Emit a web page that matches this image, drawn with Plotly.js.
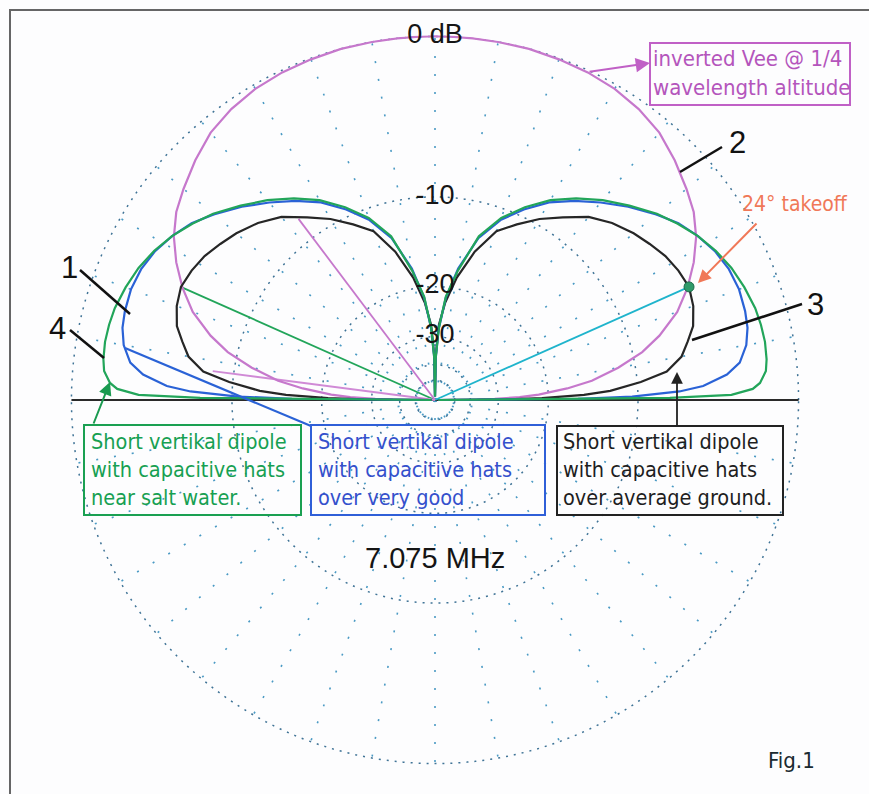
<!DOCTYPE html>
<html>
<head>
<meta charset="utf-8">
<script src="https://cdn.plot.ly/plotly-3.0.1.min.js"></script>
<style>html,body{margin:0;padding:0;background:#fdfdfe;}#chart{width:869px;height:794px;}</style>
</head>
<body>
<div id="chart"></div>
<script>
// Elevation angles (degrees above the horizon, right half; left half mirrors)
const elev = [0, 0.5, 1, 2, 3, 5, 7, 10, 13, 16, 20, 24, 28, 32, 36, 40, 45, 50, 55, 60, 65, 70, 75, 80, 84, 87, 89, 90];
// 1: short vertical dipole with capacitive hats over very good ground (blue)
const dbBlue   = [-80, -16, -10.5, -6.8, -5.2, -3.7, -2.9, -2.4, -2.15, -2.05, -2.0, -2.1, -2.35, -2.75, -3.25, -3.95, -4.9, -5.9, -6.9, -8.0, -9.4, -11.0, -13.3, -17.2, -21.7, -28, -37, -80];
// 2: inverted Vee @ 1/4 wavelength altitude (purple)
const dbVee    = [-80, -37, -31, -25, -21.5, -17.3, -14.3, -11.5, -9.2, -7.6, -5.9, -4.7, -3.7, -2.85, -2.2, -1.75, -1.2, -0.7, -0.4, -0.2, -0.1, -0.05, 0, 0, 0, 0, 0, 0];
// 3: short vertical dipole with capacitive hats over average ground (black)
const dbAvg    = [-80, -28, -21, -15.3, -12.5, -9.7, -7.6, -6.4, -5.8, -5.2, -4.8, -4.6, -4.75, -5.0, -5.4, -5.8, -6.4, -7.2, -8.4, -9.5, -10.8, -12.1, -14.8, -18.5, -22.5, -27, -36, -80];
// 4: short vertical dipole with capacitive hats near salt water (green)
const dbSalt   = [-80, -7.5, -3.5, -2.3, -1.9, -1.55, -1.45, -1.4, -1.43, -1.5, -1.7, -1.95, -2.3, -2.75, -3.3, -3.9, -4.8, -5.7, -6.7, -7.8, -9.2, -10.8, -13.1, -17.5, -21.5, -27.8, -37, -80];

// Cursor lines drawn from the origin (angle in plot degrees, level in dB)
const cursorAngles = [24, 156, 127, 172.6];
const cursorDb     = [-4.6, -4.7, -8.1, -8.3];
const cursorColors = ['#1fb4cc', '#22a55a', '#c678cc', '#d08ad6'];
// Takeoff marker
const takeoffAngle = [24];
const takeoffDb = [-4.6];

// Ring labels
const ringDb = [0, -10, -20, -30];
const ringText = ['0 dB', '-10', '-20', '-30'];
// Grid rings (dB)
const gridDb = [-50, -40, -30, -20, -10, 0];

// ARRL log scale: each 2 dB is a factor of 0.89 in radius
const s = db => Math.pow(0.89, -db / 2);

function mirror(vals) {
  const right = vals.slice();
  const left = vals.slice(0, -1).reverse();
  return right.concat(left);
}
const thetaFull = elev.concat(elev.slice(0, -1).reverse().map(a => 180 - a));

function curve(db, color) {
  return {
    type: 'scatterpolar', mode: 'lines',
    theta: thetaFull, r: mirror(db).map(s),
    line: {color: color, width: 2.2}, hoverinfo: 'skip'
  };
}

const traces = [];
traces.push({type: 'scatterpolar', mode: 'lines', theta: [0, 0, 180], r: [1, 0, 1],
  line: {color: '#2a2a2a', width: 2}, hoverinfo: 'skip'});
cursorAngles.forEach((a, i) => {
  traces.push({type: 'scatterpolar', mode: 'lines', theta: [a, a], r: [0, s(cursorDb[i])],
    line: {color: cursorColors[i], width: 1.8}, hoverinfo: 'skip'});
});
traces.push(curve(dbVee, '#c678cc'));
traces.push(curve(dbAvg, '#262626'));
traces.push(curve(dbBlue, '#2a62d6'));
traces.push(curve(dbSalt, '#22a55a'));
traces.push({type: 'scatterpolar', mode: 'markers', theta: takeoffAngle, r: takeoffDb.map(s),
  marker: {size: 10, color: '#2f9a6a', line: {color: '#1d6a4a', width: 1}}, hoverinfo: 'skip'});
traces.push({type: 'scatterpolar', mode: 'text', theta: ringDb.map(() => 90), r: ringDb.map(s),
  text: ringText, textposition: 'middle center',
  textfont: {family: 'Liberation Sans, Arial, sans-serif', size: 27, color: '#151515'}, hoverinfo: 'skip'});

const px = x => (x - 70) / 730;
const py = y => (765 - y) / 730;

const boxFont = 'DejaVu Sans Condensed, DejaVu Sans, sans-serif';
const annotations = [
  {x: px(435), y: py(558), text: '7.075 MHz', font: {family: 'Liberation Sans, Arial', size: 29, color: '#151515'}},
  {x: px(791), y: py(760), text: 'Fig.1', font: {family: boxFont, size: 22, color: '#1a2a30'}},
  {x: px(69), y: py(267), text: '1', font: {family: 'Liberation Sans, Arial', size: 31, color: '#111'}},
  {x: px(57), y: py(328), text: '4', font: {family: 'Liberation Sans, Arial', size: 31, color: '#111'}},
  {x: px(737), y: py(142), text: '2', font: {family: 'Liberation Sans, Arial', size: 31, color: '#111'}},
  {x: px(815), y: py(304), text: '3', font: {family: 'Liberation Sans, Arial', size: 31, color: '#111'}},
  {x: px(795), y: py(204), text: '24° takeoff', font: {family: boxFont, size: 21, color: '#f07858'}},
  {x: px(89), y: py(427), xanchor: 'left', yanchor: 'top', align: 'left',
    text: 'Short vertikal dipole<br>with capacitive hats<br>near salt water.', font: {family: boxFont, size: 21.5, color: '#17a052'}},
  {x: px(316), y: py(427), xanchor: 'left', yanchor: 'top', align: 'left',
    text: 'Short vertikal dipole<br>with capacitive hats<br>over very good', font: {family: boxFont, size: 21.5, color: '#3450cc'}},
  {x: px(561), y: py(427), xanchor: 'left', yanchor: 'top', align: 'left',
    text: 'Short vertikal dipole<br>with capacitive hats<br>over average ground.', font: {family: boxFont, size: 21.5, color: '#1e1e1e'}},
  {x: px(651), y: py(44), xanchor: 'left', yanchor: 'top', align: 'left',
    text: 'inverted Vee @ 1/4<br>wavelength altitude', font: {family: boxFont, size: 22, color: '#b455bc'}},
  // arrows
  {x: px(650), y: py(63), text: '', showarrow: true, ax: -62, ay: 9, arrowhead: 2, arrowsize: 1.3, arrowwidth: 2.2, arrowcolor: '#c060c6'},
  {x: px(110), y: py(382), text: '', showarrow: true, ax: -17, ay: 43, arrowhead: 2, arrowsize: 1.3, arrowwidth: 2, arrowcolor: '#1a9a50'},
  {x: px(677), y: py(372), text: '', showarrow: true, ax: 0, ay: 55, arrowhead: 2, arrowsize: 1.3, arrowwidth: 1.8, arrowcolor: '#222'},
  {x: px(698), y: py(283), text: '', showarrow: true, ax: 60, ay: -61, arrowhead: 2, arrowsize: 1.3, arrowwidth: 2, arrowcolor: '#f07858'}
].map(a => Object.assign({xref: 'paper', yref: 'paper', showarrow: false, xanchor: 'center', yanchor: 'middle'}, a));

const seg = (x0, y0, x1, y1, color, w) => ({type: 'line', xref: 'paper', yref: 'paper',
  x0: px(x0), y0: py(y0), x1: px(x1), y1: py(y1), line: {color: color, width: w}});
const box = (x0, y0, x1, y1, color) => ({type: 'rect', xref: 'paper', yref: 'paper',
  x0: px(x0), y0: py(y0), x1: px(x1), y1: py(y1), line: {color: color, width: 2}});

const shapes = [
  box(10, 10, 900, 830, '#666'),
  box(84, 425, 301, 515, '#1aa052'),
  box(311, 425, 545, 515, '#2f5fd8'),
  box(557, 426, 783, 515, '#222'),
  box(650, 43, 850, 105, '#c060c6'),
  seg(80, 270, 130, 314, '#111', 2.5),
  seg(70, 330, 104, 358, '#111', 2.5),
  seg(680, 172, 722, 147, '#111', 2.5),
  seg(692, 340, 802, 304, '#111', 2.5),
  seg(125, 348, 311, 426, '#2a62d6', 2.2)
];

const layout = {
  width: 869, height: 794,
  margin: {l: 70, r: 69, t: 35, b: 29},
  paper_bgcolor: '#fdfdfe',
  showlegend: false,
  hovermode: false,
  polar: {
    domain: {x: [0, 1], y: [0, 1]},
    bgcolor: 'rgba(0,0,0,0)',
    radialaxis: {range: [0, 1.004], tickmode: 'array', tickvals: gridDb.map(s),
      showticklabels: false, ticks: '', showline: false,
      gridcolor: '#3f7396', griddash: '2px,6px', gridwidth: 1.5},
    angularaxis: {rotation: 0, direction: 'counterclockwise', tickmode: 'linear', tick0: 0, dtick: 10,
      showticklabels: false, ticks: '', showline: false,
      gridcolor: '#4a9ac4', griddash: '2px,16px', gridwidth: 1.6}
  },
  shapes: shapes,
  annotations: annotations
};

Plotly.newPlot('chart', traces, layout, {displayModeBar: false, staticPlot: true});
</script>
</body>
</html>
